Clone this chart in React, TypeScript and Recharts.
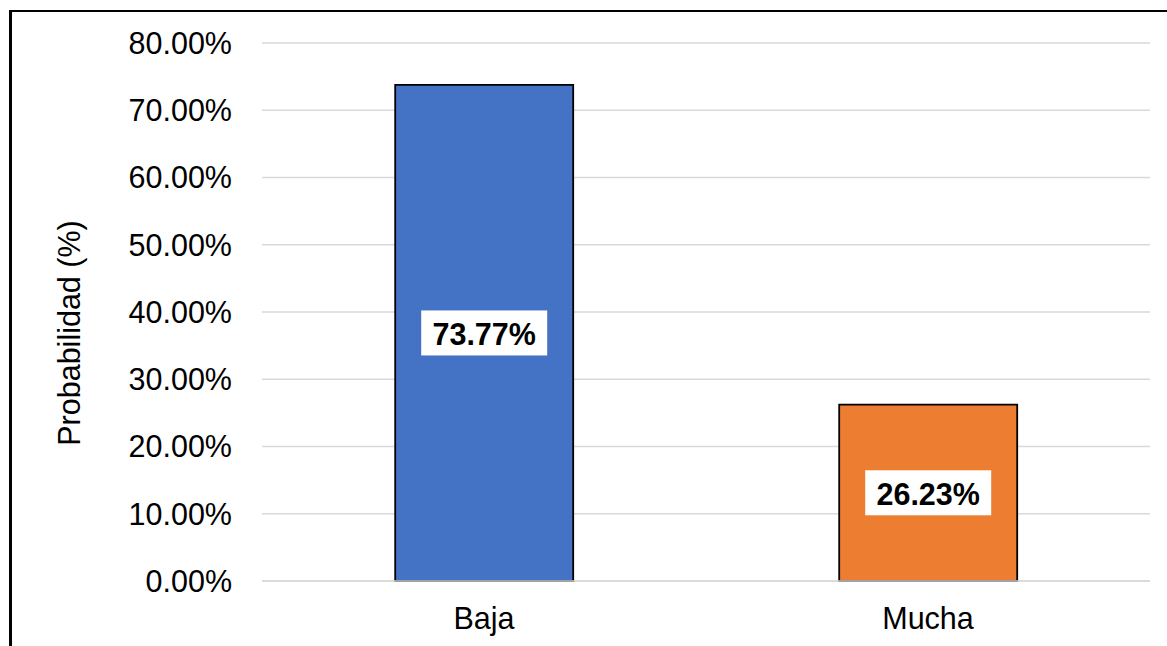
import React from 'react';
import { BarChart, Bar, XAxis, YAxis, CartesianGrid, Cell, LabelList } from 'recharts';

const categories = ['Baja', 'Mucha'];
const probabilities = [73.77, 26.23];
const yTicks = [0, 10, 20, 30, 40, 50, 60, 70, 80];
const COLORS = ['#4472C4', '#ED7D31'];

const data = categories.map((name, i) => ({ name, value: probabilities[i] }));

const FONT = "Arial, 'Liberation Sans', sans-serif";
const FS = 30.5;

const fmt = (v: number) => `${v.toFixed(2)}%`;

// white box with bold value, centred in the bar
const BoxLabel = (props: any) => {
    const { x, y, width, height, value } = props;
    const cx = x + width / 2;
    const cy = y + height / 2;
    const w = 126;
    const h = 45;
    return (
        <g>
            <rect x={cx - w / 2} y={cy - h / 2} width={w} height={h} fill="#fff" />
            <text
                x={cx}
                y={cy + 1}
                textAnchor="middle"
                dominantBaseline="central"
                fontFamily={FONT}
                fontSize={FS}
                fontWeight="bold"
                fill="#000"
            >
                {fmt(value)}
            </text>
        </g>
    );
};

const YTitle = (props: any) => {
    const { viewBox } = props;
    const x = viewBox.x + 69;
    const y = viewBox.y + viewBox.height / 2 + 21;
    return (
        <text
            x={x}
            y={y}
            transform={`rotate(-90, ${x}, ${y})`}
            textAnchor="middle"
            dominantBaseline="central"
            fontFamily={FONT}
            fontSize={FS}
            fill="#000"
        >
            Probabilidad (%)
        </text>
    );
};

const App: React.FC = () => {
    return (
        <div style={{ position: 'absolute', left: 0, top: 0, width: 1167, height: 646, background: '#fff', overflow: 'hidden' }}>
            <div
                style={{
                    position: 'absolute',
                    left: 9,
                    top: 10,
                    width: 1200,
                    height: 700,
                    borderTop: '2.5px solid #000',
                    borderLeft: '3px solid #000',
                }}
            />
            <div style={{ position: 'absolute', left: 0, top: 0 }}>
                <BarChart
                    width={1167}
                    height={646}
                    data={data}
                    margin={{ top: 43, right: 17, bottom: 25, left: 0 }}
                    barCategoryGap="30%"
                >
                    <CartesianGrid vertical={false} stroke="#d9d9d9" strokeWidth={1.5} />
                    <XAxis
                        dataKey="name"
                        height={40}
                        axisLine={{ stroke: '#d9d9d9', strokeWidth: 1.5 }}
                        tickLine={false}
                        tickSize={0}
                        tickMargin={26}
                        tick={{ fill: '#000', fontSize: FS, fontFamily: FONT }}
                    />
                    <YAxis
                        width={262}
                        domain={[0, 80]}
                        ticks={yTicks}
                        tickFormatter={fmt}
                        axisLine={false}
                        tickLine={false}
                        tickSize={0}
                        tickMargin={30}
                        tick={{ fill: '#000', fontSize: FS, fontFamily: FONT }}
                        label={{ content: YTitle }}
                    />
                    <Bar dataKey="value" stroke="#000" strokeWidth={1.8} isAnimationActive={false}>
                        {data.map((entry, index) => (
                            <Cell key={`cell-${index}`} fill={COLORS[index % COLORS.length]} />
                        ))}
                        <LabelList dataKey="value" content={BoxLabel} />
                    </Bar>
                </BarChart>
            </div>
        </div>
    );
};

export default App;
